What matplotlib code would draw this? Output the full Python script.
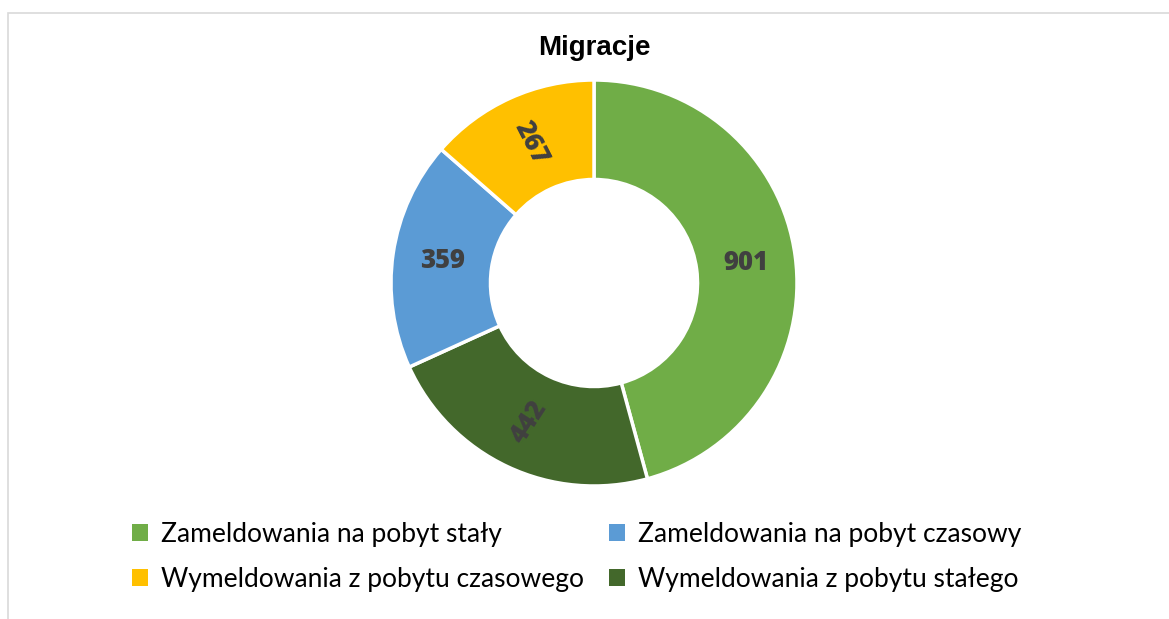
import matplotlib
matplotlib.use("Agg")
import matplotlib.pyplot as plt
import numpy as np
from matplotlib.patches import Rectangle, Patch

# data (clockwise from 12 o'clock)
categories = ["Zameldowania na pobyt stały", "Wymeldowania z pobytu stałego",
              "Zameldowania na pobyt czasowy", "Wymeldowania z pobytu czasowego"]
values = [901, 442, 359, 267]
colors = ["#70AD47", "#43682B", "#5B9BD5", "#FFC000"]
label_rot = [0, 57, 0, -63]
legend_order = [0, 3, 2, 1]   # column-major: stały, czasowego / czasowy, stałego

W, H = 1169, 619
fig = plt.figure(figsize=(W/100, H/100), dpi=100)

# chart border (only top/left visible)
fig.patches.append(Rectangle((8/W, -0.2), 1.2, (H-13)/H + 0.2, transform=fig.transFigure,
                             fill=False, edgecolor="#D9D9D9", lw=1.2))

cx, cy, r = 594, 283, 203
ax = fig.add_axes([(cx-r)/W, (H-cy-r)/H, 2*r/W, 2*r/H])
ring = 0.49
wedges, _ = ax.pie(values, colors=colors, startangle=90, counterclock=False,
                   radius=1, wedgeprops=dict(width=ring, edgecolor="white", linewidth=2.5))
ax.set_xlim(-1, 1); ax.set_ylim(-1, 1)
ax.set_aspect("equal")
ax.axis("off")

total = sum(values)
cum = np.cumsum([0] + values)
rm = 1 - ring/2
for i, v in enumerate(values):
    mid = 90 - (cum[i] + v/2)/total*360
    a = np.deg2rad(mid)
    ax.text(rm*np.cos(a), rm*np.sin(a), str(v), ha="center", va="center",
            rotation=label_rot[i], rotation_mode="anchor",
            fontsize=18.5, fontweight="heavy", color="#404040", family="Open Sans")

fig.text(cx/W, 1-48/H, "Migracje", ha="center", va="center",
         fontsize=20, fontweight="bold", family="Liberation Sans")

handles = [Patch(facecolor=colors[i], edgecolor="none") for i in legend_order]
labels = [categories[i] for i in legend_order]
fig.legend(handles, labels, ncol=2, loc="center", bbox_to_anchor=(577/W, 1-557/H),
           frameon=False, prop=dict(family="Lato", size=19),
           handlelength=0.6, handleheight=0.6, handletextpad=0.5,
           columnspacing=0.95, labelspacing=0.75)

fig.savefig("out.png", dpi=100)
